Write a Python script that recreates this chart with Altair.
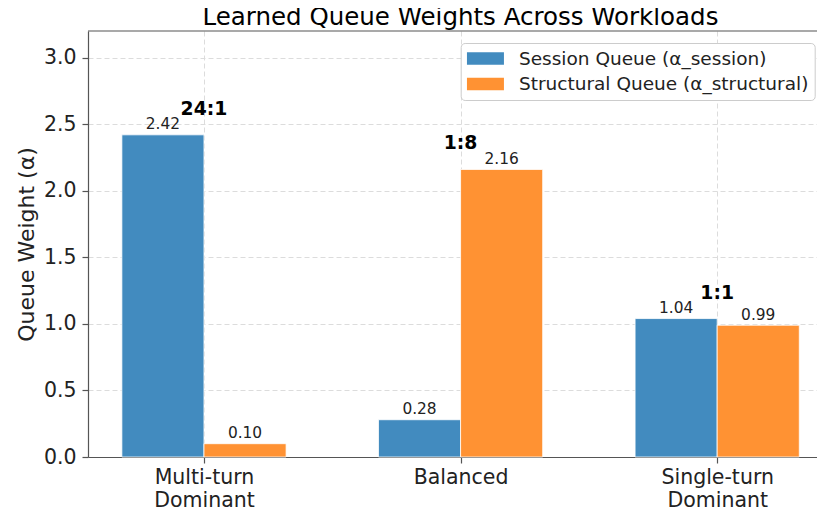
import json
import altair as alt
import pandas as pd

# ---- data ----
title_text = "Learned Queue Weights Across Workloads"
categories = ["Multi-turn Dominant", "Balanced", "Single-turn Dominant"]
tick_labels = [["Multi-turn", "Dominant"], ["Balanced"], ["Single-turn", "Dominant"]]
series = ["Session Queue (α_session)", "Structural Queue (α_structural)"]
session_values = [2.42, 0.28, 1.04]
structural_values = [0.10, 2.16, 0.99]
ratio_labels = ["24:1", "1:8", "1:1"]
y_ticks = [0.0, 0.5, 1.0, 1.5, 2.0, 2.5, 3.0]
colors = ["#428bbf", "#ff9233"]

FONT = "DejaVu Sans"
BAR_W = 0.32
PLOT_W = 729
PLOT_H = 426

rows = []
for i, c in enumerate(categories):
    rows.append({"idx": i, "category": c, "series": series[0], "order": 0, "value": session_values[i]})
    rows.append({"idx": i, "category": c, "series": series[1], "order": 1, "value": structural_values[i]})
bars_df = pd.DataFrame(rows)
ratio_df = pd.DataFrame({
    "idx": list(range(len(categories))),
    "session": session_values,
    "structural": structural_values,
    "ratio": ratio_labels,
})

# label expression for multi-line category labels
expr = "''"
for i in reversed(range(len(tick_labels))):
    lab = tick_labels[i]
    val = json.dumps(lab if len(lab) > 1 else lab[0], ensure_ascii=False)
    expr = f"datum.value == {i} ? {val} : ({expr})"

xs = alt.Scale(domain=[-0.452, 2.389], nice=False, zero=False)
ys = alt.Scale(domain=[0, 3.2], nice=False)
x_axis = alt.Axis(values=list(range(len(categories))), labelExpr=expr, title=None, grid=True)
y_axis = alt.Axis(values=y_ticks, format=".1f", title="Queue Weight (α)", grid=True)

base = alt.Chart(bars_df)

bars = base.mark_bar(stroke="white", strokeWidth=0.8).encode(
    x=alt.X("x0:Q", scale=xs, axis=x_axis),
    x2="x1:Q",
    y=alt.Y("value:Q", scale=ys, axis=y_axis),
    y2=alt.datum(0),
    color=alt.Color(
        "series:N",
        scale=alt.Scale(domain=series, range=colors),
        legend=alt.Legend(
            title=None, orient="none", legendX=372.7, legendY=12,
            symbolType="M-2,-0.667H2V0.667H-2Z", symbolSize=342,
            symbolOffset=9.25,
            symbolStrokeWidth=0, symbolOpacity=1,
            labelFontSize=18.5, labelFont=FONT, labelColor="#222",
            fillColor="white", strokeColor="#cccccc", cornerRadius=4,
            padding=6, rowPadding=6.5, labelOffset=24, labelLimit=400,
        ),
    ),
).transform_calculate(
    x0=f"datum.idx + (datum.order == 0 ? {-BAR_W} : 0)",
    x1=f"datum.idx + (datum.order == 0 ? 0 : {BAR_W})",
)

values_text = base.mark_text(
    dy=-5.5, baseline="alphabetic", fontSize=15.4, font=FONT, color="#222"
).encode(
    x=alt.X("xc:Q", scale=xs, axis=x_axis),
    y=alt.Y("value:Q", scale=ys, axis=y_axis),
    text=alt.Text("value:Q", format=".2f"),
).transform_calculate(
    xc=f"datum.idx + (datum.order == 0 ? {-BAR_W / 2} : {BAR_W / 2})",
)

ratio_text = alt.Chart(ratio_df).mark_text(
    baseline="alphabetic", fontSize=18.8, fontWeight="bold", font=FONT, color="black"
).encode(
    x=alt.X("idx:Q", scale=xs, axis=x_axis),
    y=alt.Y("ty:Q", scale=ys, axis=y_axis),
    text="ratio:N",
).transform_calculate(
    ty="max(datum.session, datum.structural) + 0.15",
)

top_frame = alt.Chart(pd.DataFrame({"f": [0]})).mark_rule(
    color="#555", strokeWidth=1.2
).encode(x=alt.value(0), x2=alt.value(PLOT_W), y=alt.value(0))

title_mark = alt.Chart(pd.DataFrame({"t": [title_text]})).mark_text(
    fontSize=24.5, font=FONT, color="black", baseline="alphabetic", align="center"
).encode(text="t:N", x=alt.value(PLOT_W / 2 + 8), y=alt.value(-6))

chart = alt.layer(bars, values_text, ratio_text, top_frame, title_mark).properties(
    width=PLOT_W,
    height=PLOT_H,
    autosize=alt.AutoSizeParams(type="none"),
    padding={"left": 80, "top": 23, "right": 0, "bottom": 52},
).configure_view(stroke=None).configure_axis(
    labelFont=FONT, titleFont=FONT,
    domainColor="#555", domainWidth=1.2,
    tickColor="#555", tickWidth=1.2, tickSize=6,
    gridColor="#dcdcdc", gridDash=[5, 3], gridWidth=1,
    labelColor="#222", titleColor="#222", labelFontSize=20.5,
).configure_axisX(
    labelPadding=4, labelLineHeight=23,
).configure_axisY(
    labelPadding=6, titleFontSize=22, titleFontWeight="normal", titlePadding=5,
)

chart.save("out.html", embed_options={"renderer": "svg", "actions": False})
